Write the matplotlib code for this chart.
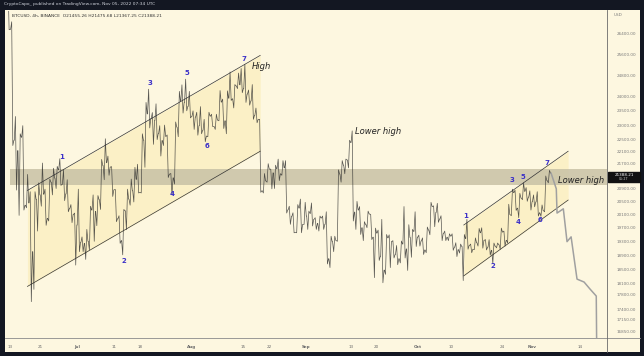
import numpy as np
import matplotlib.pyplot as plt
from matplotlib.patches import Rectangle
from matplotlib.lines import Line2D

# days counted from Jun 1, 2022 (Jun 1 = 0)
start_day = 11          # Jun 12
first_open = 28400

highs = [
    28550, 26880, 23300, 22700, 22980, 21350, 20800, 20800, 21080, 21720,
    20880, 21200, 21550, 21610, 21860, 21500, 21180, 20400, 20140,
    20880, 19430, 19650, 20350, 20700, 20680, 21840, 22530, 21950, 21600,
    20870, 20060, 20250, 20880, 21200, 21580, 21680, 22700, 23800, 24280,
    23440, 23750, 22980, 23000, 22660, 21380, 23110, 24200, 24440, 24650, 24200,
    23500, 23450, 23650, 23200, 23450, 23380, 23380, 24230, 23920, 24220,
    24920, 24450, 24880, 25050, 25210, 24250, 24450, 23600, 23200, 21380,
    21700, 21520, 21650, 21850, 21800, 21800, 20350, 20150, 20400, 20570, 20470,
    20200, 20450, 20000, 20050, 20050, 20180, 19450, 19450, 21500, 21800,
    21850, 22480, 22800, 20500, 20340, 19880, 20200, 20100, 19690, 19630,
    19950, 19500, 19490, 19320, 19180, 19310, 20340, 19790, 19650, 20180,
    19480, 19400, 19720, 20470, 20360, 20440, 20060, 19600, 19520, 19520,
    19260, 19220, 19500, 19950, 19220, 19400, 19680, 19700, 19350, 19350,
    19250, 19250, 19690, 19600, 20410, 20880, 20850, 20750, 21080, 20930, 20830,
    20700, 20800, 20390, 21300, 21480,
]
lows = [
    26560, 22300, 20850, 20070, 20230, 20300, 17620, 17950, 19600, 20350,
    19770, 19900, 20700, 20900, 21000, 20520, 20180, 19850, 18620,
    19000, 19000, 18780, 19050, 19300, 19760, 20250, 21180, 21320, 20650,
    19880, 19240, 18910, 19640, 20380, 20480, 20760, 20760, 21580, 22900,
    22340, 22500, 21950, 22300, 21250, 20700, 21040, 22600, 23420, 23500, 23250,
    22850, 22650, 22700, 22430, 22600, 22950, 22850, 23150, 22880, 22700,
    23870, 23600, 24300, 24150, 23800, 23700, 23200, 23080, 20780, 20760,
    21100, 20890, 20900, 21150, 21320, 20140, 19800, 19550, 19550, 19550, 19800,
    19650, 19750, 19650, 19600, 19650, 18650, 18550, 19000, 19300, 21100,
    21370, 21560, 19900, 19650, 19500, 19320, 19700, 19350, 18270, 18750,
    18130, 18360, 18550, 18820, 18630, 18680, 18820, 18470, 18840, 19150,
    19160, 18920, 18970, 19490, 19730, 19860, 19320, 19320, 19320, 19040,
    18860, 18960, 18190, 19070, 18970, 19060, 19160, 19100, 19050, 18900,
    18660, 19110, 19070, 19160, 19250, 20060, 20220, 20000, 20550, 20500, 20230,
    20330, 20050, 20040, 20180, 21080,
]
closes = [
    26574, 22480, 22130, 22580, 20380, 20450, 19000, 20560, 20700, 20720,
    19980, 21100, 21230, 21500, 21030, 20730, 20280, 20100, 19780,
    19270, 19240, 19300, 20230, 20190, 20550, 21640, 21730, 21590, 20860,
    19970, 19320, 20210, 20570, 20830, 21190, 20780, 22480, 23390, 23230,
    23160, 22710, 22470, 22610, 21360, 21240, 22930, 23840, 23800, 23660, 23300,
    23280, 22980, 22820, 22620, 23310, 22950, 23170, 23810, 23150, 23950,
    23930, 24400, 24440, 24300, 24100, 23850, 23340, 23200, 20830, 21140,
    21520, 21400, 21530, 21370, 21560, 20240, 20040, 19560, 20290, 19800, 20050,
    20130, 19950, 19830, 19990, 19800, 18800, 19290, 19320, 21360, 21650,
    21820, 22400, 20170, 20230, 19700, 19800, 20110, 19420, 19540, 18870,
    18480, 19400, 19290, 18920, 18800, 19220, 19080, 19410, 19590, 19420,
    19310, 19050, 19630, 20340, 20160, 19960, 19530, 19420, 19450, 19130,
    19060, 19150, 19380, 19180, 19070, 19260, 19550, 19330, 19130, 19040,
    19160, 19200, 19570, 19330, 20090, 20770, 20290, 20600, 20810, 20630, 20490,
    20480, 20150, 20210, 21150, 21388.21,
]

# hand drawn projection after the last candle
proj_days = [158.1, 159.5, 159.7, 161.4, 162.4, 163.5, 165.1, 167.0, 168.6, 170.3, 170.5]
proj_prices = [21388, 20890, 20140, 20270, 19290, 19430, 18230, 18150, 17960, 17770, 15500]

# parallel channels: (day, price) of upper and lower rails
ch1_days = [16.6, 79.5]
ch1_upper = [20840, 25550]
ch1_lower = [18030, 22110]
ch2_days = [134.5, 162.7]
ch2_upper = [19781, 22110]
ch2_lower = [18320, 20540]

band_low, band_high = 21000, 21520

wave1_days = [25.9, 42.7, 49.7, 55.7, 59.7, 65.1, 75.1]
wave1_prices = [21930, 18730, 24520, 20725, 24890, 22280, 25400]
wave2_days = [134.9, 142.4, 147.6, 149.2, 150.5, 155.1, 157.0]
wave2_prices = [20050, 18600, 21160, 19880, 21260, 19940, 21710]

price_ticks = [26400, 25600, 24800, 24000, 23500, 23000, 22500, 22100, 21700,
               20900, 20500, 20100, 19700, 19300, 18900, 18500, 18100, 17800,
               17400, 17150, 16850]
date_ticks = [12, 20, 30, 40, 47, 61, 75, 82, 92, 104, 111, 122, 131, 145, 153, 166]
date_labels = ['13', '21', 'Jul', '11', '18', 'Aug', '15', '22', 'Sep',
               '13', '20', 'Oct', '10', '24', 'Nov', '14']

W, H = 644, 356
dark = '#131722'
cream = '#fdf7e0'
purple = '#3b30c8'

fig = plt.figure(figsize=(W / 100, H / 100), dpi=100)
fig.patch.set_facecolor(dark)

bg = fig.add_axes([5 / W, 4 / H, 635 / W, 342 / H])
bg.set_facecolor(cream)
bg.set_xticks([]); bg.set_yticks([])
for s in bg.spines.values():
    s.set_visible(False)

ax = fig.add_axes([8 / W, (H - 338) / H, 599 / W, 327 / H])
ax.set_facecolor('none')
ax.set_yscale('log')
ax.set_xlim(11.35, 173.2)
ax.set_ylim(16680, 27320)

# candles traced as a jagged line o -> extreme -> extreme -> close
xs, ys = [], []
o = first_open
for i, (h, l, c) in enumerate(zip(highs, lows, closes)):
    d = start_day + i
    seq = [o, l, h, c] if c >= o else [o, h, l, c]
    xs += [d + 0.05, d + 0.35, d + 0.65, d + 0.95]
    ys += seq
    o = c
ax.plot(xs, ys, color='#2e2e2e', lw=0.5, alpha=0.8, zorder=4)

ax.plot(proj_days, proj_prices, color='#a0a0a0', lw=1.1, zorder=4)

# channels
for days, up, lo in [(ch1_days, ch1_upper, ch1_lower), (ch2_days, ch2_upper, ch2_lower)]:
    ax.fill_between(days, lo, up, color='#fbeebb', alpha=0.7, lw=0, zorder=1)
    ax.plot(days, up, color='#333333', lw=0.5, zorder=3)
    ax.plot(days, lo, color='#333333', lw=0.5, zorder=3)

ax.axhspan(band_low, band_high, xmin=(12.0 - 11.35) / (173.2 - 11.35), xmax=1,
           color='#c8c1a6', alpha=0.85, lw=0, zorder=2)

for i, (d, p) in enumerate(zip(wave1_days, wave1_prices)):
    ax.text(d, p, str(i + 1), color=purple, fontsize=5, fontweight='bold',
            ha='center', va='center', zorder=6)
for i, (d, p) in enumerate(zip(wave2_days, wave2_prices)):
    ax.text(d, p, str(i + 1), color=purple, fontsize=5, fontweight='bold',
            ha='center', va='center', zorder=6)

ax.text(77.3, 25110, 'High', fontsize=6, style='italic', color='#222222', va='center', zorder=6)
ax.text(105.1, 22770, 'Lower high', fontsize=6, style='italic', color='#222222', va='center', zorder=6)
ax.text(160.0, 21160, 'Lower high', fontsize=6, style='italic', color='#222222', va='center', zorder=6)

ax.yaxis.tick_right()
ax.yaxis.set_minor_locator(plt.NullLocator())
ax.set_yticks(price_ticks)
ax.set_yticklabels(['%.2f' % v for v in price_ticks])
ax.set_xticks(date_ticks)
ax.set_xticklabels(date_labels)
for lbl, txt in zip(ax.get_xticklabels(), date_labels):
    if not txt.isdigit():
        lbl.set_fontweight('bold')
ax.tick_params(axis='y', length=0, labelsize=3, labelcolor='#7a7a7a', pad=7)
ax.tick_params(axis='x', length=0, labelsize=3, labelcolor='#6a6a6a', pad=5)
for s in ax.spines.values():
    s.set_visible(False)

# axis frame lines
fig.add_artist(Line2D([5 / W, 640 / W], [(H - 338) / H] * 2, color='#8a8a8a', lw=0.6))
fig.add_artist(Line2D([607 / W] * 2, [4 / H, (H - 10) / H], color='#6a6a6a', lw=0.6))

# current price marker
fig.add_artist(Rectangle((608 / W, (H - 182) / H), 32 / W, 10 / H, color='#111111'))
fig.text(624 / W, (H - 175) / H, '21388.21', color='white', fontsize=3, ha='center', va='center')
fig.text(624 / W, (H - 179.5) / H, '05:27', color='#cccccc', fontsize=2.3, ha='center', va='center')
fig.text(614 / W, (H - 15) / H, 'USD', color='#7a7a7a', fontsize=3, va='center')

fig.text(4 / W, (H - 4.5) / H, 'CryptoCapo_ published on TradingView.com, Nov 05, 2022 07:34 UTC',
         color='#d1d4dc', fontsize=3.2, va='center')
fig.text(12 / W, (H - 16) / H, 'BTCUSD, 4h, BINANCE  O21455.26 H21475.68 L21367.25 C21388.21',
         color='#333333', fontsize=3.2, va='center')

fig.savefig('out.png', dpi=100, facecolor=fig.get_facecolor())
